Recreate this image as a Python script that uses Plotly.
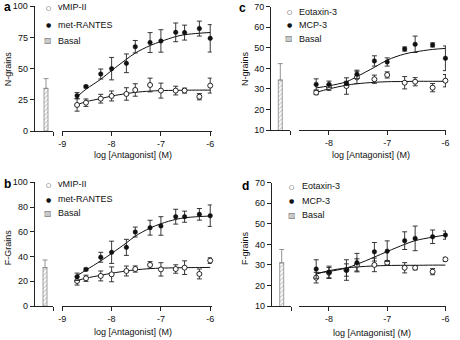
import plotly.graph_objects as go

# ---------------- data ----------------
x_ab = [-8.7, -8.52, -8.22, -8.0, -7.7, -7.52, -7.22, -7.0, -6.7, -6.52, -6.22, -6.0]
x_cd = [-8.22, -8.0, -7.7, -7.52, -7.22, -7.0, -6.7, -6.52, -6.22, -6.0]

a_vmip = [20.9, 22.7, 25.9, 28.1, 29.7, 32.9, 36.9, 32.4, 32.4, 32.4, 27.5, 36.4]
a_vmip_err = [5, 3, 3.5, 4, 5, 5, 5.5, 6, 3.5, 2, 2.5, 6]
a_met = [28.3, 35.6, 45.7, 50, 54.3, 67.6, 70.9, 72.2, 79.1, 78.9, 82.1, 74.3]
a_met_err = [2.5, 1, 4, 9, 7.5, 5, 8, 9, 7.5, 6, 6, 11]
a_vmip_fit = [21, 23.5, 26, 28, 30, 31, 32, 32.4, 32.6, 32.7, 32.8, 32.8]
a_met_fit = [27.5, 33.5, 41.5, 48.5, 57.5, 62.5, 68.5, 71.8, 75.7, 77.2, 78.4, 79.0]
a_basal, a_basal_err = [34.2], [7.8]

b_vmip = [20.2, 22.4, 24.3, 25.6, 28.3, 29.9, 33.2, 29.6, 29.9, 31, 25.9, 36.7]
b_vmip_err = [3.3, 2.5, 4, 6, 4, 2.5, 2.7, 5.4, 3.4, 5.5, 4, 2.3]
b_met = [23.6, 29.6, 39.4, 43.4, 47.4, 59.8, 63.3, 64.7, 72.2, 72.2, 74.1, 73]
b_met_err = [3, 1, 4, 9, 6.5, 4, 6, 7.5, 6, 4.5, 4.7, 8.7]
b_vmip_fit = [20.5, 22.5, 24.8, 26.5, 28.3, 29.2, 30.2, 30.6, 30.9, 31.0, 31.1, 31.2]
b_met_fit = [24.5, 29, 36.5, 42.5, 51, 56.5, 63, 66.5, 70, 71.3, 72.3, 72.7]
b_basal, b_basal_err = [31], [6.2]

c_eot = [28.2, 30.8, 31.4, 35.6, 34.7, 36.8, 33, 33.5, 30.6, 34]
c_eot_err = [1, 1.5, 4, 3, 2, 1.5, 3, 2, 2, 3]
c_mcp = [32.2, 32.2, 32.7, 37.1, 43.6, 43.1, 49.4, 51.7, 51.4, 44.9]
c_mcp_err = [2.7, 1.6, 1, 2, 2.5, 2, 1, 4, 1, 6]
c_eot_fit = [28.3, 30, 31.8, 32.5, 33.2, 33.5, 33.6, 33.7, 33.7, 33.7]
c_mcp_fit = [30.5, 31.5, 33.5, 36, 40.5, 44, 47, 48, 49.2, 49.7]
c_basal, c_basal_err = [34.3], [8]

d_eot = [23.8, 26.2, 27.5, 30, 30, 31.1, 28.6, 28.6, 26.7, 32.7]
d_eot_err = [2.6, 2.5, 3, 3, 3.3, 1, 2.5, 1, 1.5, 1]
d_mcp = [28, 26.4, 27.5, 31.1, 36.4, 36.7, 41.8, 42.9, 43.7, 44.5]
d_mcp_err = [4.5, 3, 5, 4.5, 4.5, 5, 4.3, 6, 3.3, 2]
d_eot_fit = [25.5, 27.2, 28.5, 29, 29.5, 29.7, 29.8, 29.8, 29.9, 29.9]
d_mcp_fit = [26, 26.8, 28.5, 30.3, 33.8, 36.5, 40, 41.8, 43.5, 44.5]
d_basal, d_basal_err = [31], [6.5]

basal_cat = ["Basal"]
xt_ab_vals = [-9, -8, -7, -6]
xt_ab_text = ["-9", "-8", "-7", "-6"]
xt_cd_vals = [-8, -7, -6]
xt_cd_text = ["-8", "-7", "-6"]
yt_a = [0, 25, 50, 75, 100]
yt_b = [0, 20, 40, 60, 80, 100]
yt_cd = [10, 20, 30, 40, 50, 60, 70]

x_title = "log [Antagonist] (M)"

# ---------------- geometry helpers ----------------
W, H = 460, 340
MT = 6
FONT = "Liberation Sans, Arial, sans-serif"
FS = 9
INK = "#111"


def fx(p):
    return p / W


def fy(p):
    return 1 - (p - MT) / (H - MT)


panels = [
    dict(label="a", ytitle="N-grains", x=x_ab, open=a_vmip, open_err=a_vmip_err,
         filled=a_met, filled_err=a_met_err, open_fit=a_vmip_fit, filled_fit=a_met_fit,
         basal=a_basal, basal_err=a_basal_err, names=("vMIP-II", "met-RANTES"),
         ytick=yt_a, yrange=[0, 100], xtv=xt_ab_vals, xtt=xt_ab_text,
         ypx=(6.3, 131), bpx=(34.7, 53.3), bctr=46.0, mpx=(62.3, 211.7), mrange=[-9, -5.97],
         lab=(2, 7), ytl=(8.3, 69), xtl=(133, 155),
         leg_sx=48.3, leg_tx=56, leg_y=(7.3, 25, 40.7)),
    dict(label="b", ytitle="F-Grains", x=x_ab, open=b_vmip, open_err=b_vmip_err,
         filled=b_met, filled_err=b_met_err, open_fit=b_vmip_fit, filled_fit=b_met_fit,
         basal=b_basal, basal_err=b_basal_err, names=("vMIP-II", "met-RANTES"),
         ytick=yt_b, yrange=[0, 100], xtv=xt_ab_vals, xtt=xt_ab_text,
         ypx=(182.3, 306), bpx=(34.7, 53.3), bctr=45.0, mpx=(62.3, 211.7), mrange=[-9, -5.97],
         lab=(2, 184), ytl=(8.3, 247), xtl=(133, 332),
         leg_sx=48.3, leg_tx=56, leg_y=(184, 199.3, 213.3)),
    dict(label="c", ytitle="N-grains", x=x_cd, open=c_eot, open_err=c_eot_err,
         filled=c_mcp, filled_err=c_mcp_err, open_fit=c_eot_fit, filled_fit=c_mcp_fit,
         basal=c_basal, basal_err=c_basal_err, names=("Eotaxin-3", "MCP-3"),
         ytick=yt_cd, yrange=[10, 70], xtv=xt_cd_vals, xtt=xt_cd_text,
         ypx=(6.7, 130), bpx=(271.0, 290.3), bctr=280.3, mpx=(299.3, 446.0), mrange=[-8.51, -5.99],
         lab=(237, 8), ytl=(245, 69), xtl=(371, 155),
         leg_sx=289, leg_tx=296.7, leg_y=(11.5, 25, 38.8)),
    dict(label="d", ytitle="F-grains", x=x_cd, open=d_eot, open_err=d_eot_err,
         filled=d_mcp, filled_err=d_mcp_err, open_fit=d_eot_fit, filled_fit=d_mcp_fit,
         basal=d_basal, basal_err=d_basal_err, names=("Eotaxin-3", "MCP-3"),
         ytick=yt_cd, yrange=[10, 70], xtv=xt_cd_vals, xtt=xt_cd_text,
         ypx=(182.7, 306), bpx=(271.7, 291.0), bctr=281.7, mpx=(299.3, 446.0), mrange=[-8.51, -5.99],
         lab=(240, 186), ytl=(245, 248), xtl=(371.5, 333),
         leg_sx=291.7, leg_tx=300, leg_y=(186, 200.7, 215)),
]

fig = go.Figure()
layout = dict(
    width=W, height=H, margin=dict(l=0, r=0, t=MT, b=0),
    paper_bgcolor="white", plot_bgcolor="white",
    font=dict(family=FONT, size=FS, color=INK),
    showlegend=False, annotations=[],
)

BAR_W = 0.8
axis_common = dict(showgrid=False, zeroline=False, showline=True, linecolor="#222",
                   linewidth=1, ticks="outside", ticklen=4, tickwidth=1, tickcolor="#222",
                   automargin=False,
                   tickfont=dict(family=FONT, size=FS, color=INK))

for i, p in enumerate(panels):
    xb = "x" if i == 0 else f"x{2 * i + 1}"
    xm = f"x{2 * i + 2}"
    yy = "y" if i == 0 else f"y{i + 1}"

    span = p["bpx"][1] - p["bpx"][0]
    unit = 4.0 / BAR_W
    left = -(p["bctr"] - p["bpx"][0]) / unit
    right = left + span / unit

    # fitted curves
    for fit in (p["open_fit"], p["filled_fit"]):
        fig.add_trace(go.Scatter(x=p["x"], y=fit, mode="lines",
                                 line=dict(color=INK, width=1, shape="spline"),
                                 xaxis=xm, yaxis=yy, hoverinfo="skip"))
    # open symbols
    fig.add_trace(go.Scatter(x=p["x"], y=p["open"], mode="markers", name=p["names"][0],
                             marker=dict(symbol="circle", size=5, color="white", line=dict(color=INK, width=0.9)),
                             error_y=dict(type="data", array=p["open_err"], color="#222", thickness=0.9, width=2.5),
                             xaxis=xm, yaxis=yy, cliponaxis=False))
    # filled symbols
    fig.add_trace(go.Scatter(x=p["x"], y=p["filled"], mode="markers", name=p["names"][1],
                             marker=dict(symbol="circle", size=4.5, color=INK, line=dict(color=INK, width=0.5)),
                             error_y=dict(type="data", array=p["filled_err"], color="#222", thickness=0.9, width=2.5),
                             xaxis=xm, yaxis=yy, cliponaxis=False))
    # basal bar
    fig.add_trace(go.Bar(x=basal_cat, y=p["basal"], name="Basal", width=BAR_W,
                         marker=dict(color="white", line=dict(color="#888", width=0.8),
                                     pattern=dict(shape="/", fgcolor="#888", bgcolor="white", size=3, solidity=0.35)),
                         error_y=dict(type="data", symmetric=False, array=p["basal_err"], arrayminus=[0],
                                      color="#888", thickness=0.9, width=2.5),
                         xaxis=xb, yaxis=yy))

    ydom = [fy(p["ypx"][1]), min(1.0, fy(p["ypx"][0]))]
    layout[("xaxis" if i == 0 else f"xaxis{2 * i + 1}")] = dict(
        axis_common, domain=[fx(p["bpx"][0]), fx(p["bpx"][1])], anchor=yy,
        type="category", range=[left, right], tickmode="array", tickvals=[right], ticktext=[""])
    layout[f"xaxis{2 * i + 2}"] = dict(
        axis_common, domain=[fx(p["mpx"][0]), fx(p["mpx"][1])], anchor=yy,
        range=p["mrange"], tickmode="array", tickvals=p["xtv"], ticktext=p["xtt"])
    layout[("yaxis" if i == 0 else f"yaxis{i + 1}")] = dict(
        axis_common, domain=ydom, anchor=xb, range=p["yrange"], tickmode="array", tickvals=p["ytick"])

    ann = layout["annotations"]
    ann += [
        dict(text=f"<b>{p['label']}</b>", x=fx(p["lab"][0]), y=fy(p["lab"][1]), xref="paper", yref="paper",
             xanchor="left", yanchor="middle", showarrow=False, font=dict(family=FONT, size=12, color="#000")),
        dict(text=p["ytitle"], x=fx(p["ytl"][0]), y=fy(p["ytl"][1]), xref="paper", yref="paper",
             xanchor="center", yanchor="middle", textangle=-90, showarrow=False, font=dict(family=FONT, size=FS)),
        dict(text=x_title, x=fx(p["xtl"][0]), y=fy(p["xtl"][1]), xref="paper", yref="paper",
             xanchor="center", yanchor="middle", showarrow=False, font=dict(family=FONT, size=FS)),
    ]
    # legend (key glyphs + labels)
    keys = [("○", 6, INK), ("●", 6, INK), ("▨", 8, "#777")]
    labels = [p["names"][0], p["names"][1], "Basal"]
    for (glyph, gsz, gcol), lab, ly in zip(keys, labels, p["leg_y"]):
        ann.append(dict(text=glyph, x=fx(p["leg_sx"]), y=fy(ly), xref="paper", yref="paper",
                        xanchor="center", yanchor="middle", showarrow=False,
                        font=dict(family="DejaVu Sans", size=gsz, color=gcol)))
        ann.append(dict(text=lab, x=fx(p["leg_tx"]), y=fy(ly), xref="paper", yref="paper",
                        xanchor="left", yanchor="middle", showarrow=False,
                        font=dict(family=FONT, size=FS, color=INK)))

fig.update_layout(**layout)
fig.write_html("out.html", config={"displayModeBar": False},
               post_script="document.body.style.margin='0';")
